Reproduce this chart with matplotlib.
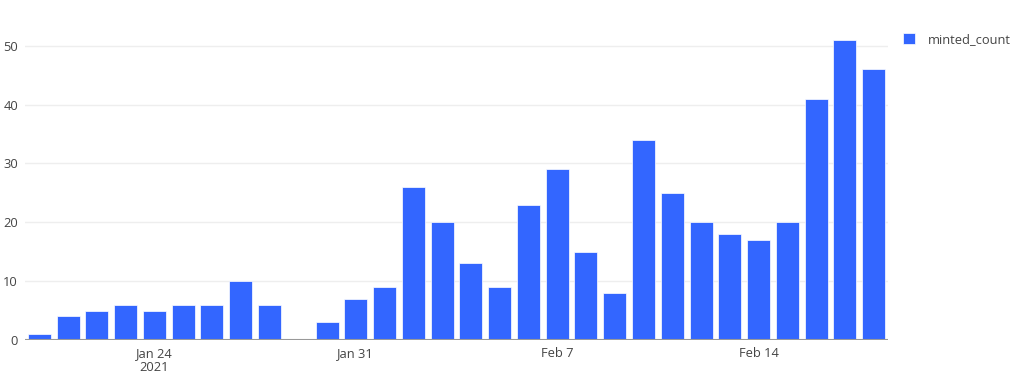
import matplotlib
matplotlib.use("Agg")
import matplotlib.pyplot as plt
import matplotlib.dates as mdates
import numpy as np
import pandas as pd

plt.rcParams['font.family'] = ['Open Sans', 'DejaVu Sans']

dates = pd.to_datetime([
    "2021-01-20", "2021-01-21", "2021-01-22", "2021-01-23", "2021-01-24",
    "2021-01-25", "2021-01-26", "2021-01-27", "2021-01-28", "2021-01-30",
    "2021-01-31", "2021-02-01", "2021-02-02", "2021-02-03", "2021-02-04",
    "2021-02-05", "2021-02-06", "2021-02-07", "2021-02-08", "2021-02-09",
    "2021-02-10", "2021-02-11", "2021-02-12", "2021-02-13", "2021-02-14",
    "2021-02-15", "2021-02-16", "2021-02-17", "2021-02-18",
])
minted_count = [1, 4, 5, 6, 5, 6, 6, 10, 6, 3,
                7, 9, 26, 20, 13, 9, 23, 29, 15, 8,
                34, 25, 20, 18, 17, 20, 41, 51, 46]
tick_dates = pd.to_datetime(["2021-01-24", "2021-01-31", "2021-02-07", "2021-02-14"])
tick_labels = ["Jan 24\n2021", "Jan 31", "Feb 7", "Feb 14"]
yticks = [0, 10, 20, 30, 40, 50]

W, H = 1028, 380
fig = plt.figure(figsize=(W / 100, H / 100), dpi=100)
left, right, top, bottom = 25, 888, 24, 340
ax = fig.add_axes([left / W, 1 - bottom / H, (right - left) / W, (bottom - top) / H])

color = "#3366FF"
xnum = mdates.date2num(dates)
ax.bar(xnum, minted_count, width=0.8, color=color, edgecolor="white", linewidth=0.5,
       label="minted_count", zorder=3)

x0 = mdates.date2num(pd.Timestamp("2021-01-20")) - 0.5
x1 = mdates.date2num(pd.Timestamp("2021-02-18")) + 0.5
ax.set_xlim(x0, x1)
ax.set_ylim(0, max(minted_count) * 1.0526)

for s in ax.spines.values():
    s.set_visible(False)
ax.axhline(0, color="#999999", linewidth=1.5, zorder=4)

fs = 9.3
ax.set_yticks(yticks)
ax.set_yticklabels([str(v) for v in yticks])
ax.yaxis.grid(True, color="#eeeeee", linewidth=1, zorder=0)
ax.set_xticks(mdates.date2num(tick_dates))
ax.set_xticklabels(tick_labels, linespacing=1.15)
ax.tick_params(axis="both", length=0, colors="#444444", labelsize=fs)
ax.tick_params(axis="x", pad=5)
ax.tick_params(axis="y", pad=5)

leg = fig.legend(loc="upper left", bbox_to_anchor=(891 / W, 1 - 21 / H), frameon=False,
                 fontsize=fs, handlelength=0.98, handleheight=0.98, handletextpad=1.0,
                 labelcolor="#444444")

fig.savefig("out.png", dpi=100)
